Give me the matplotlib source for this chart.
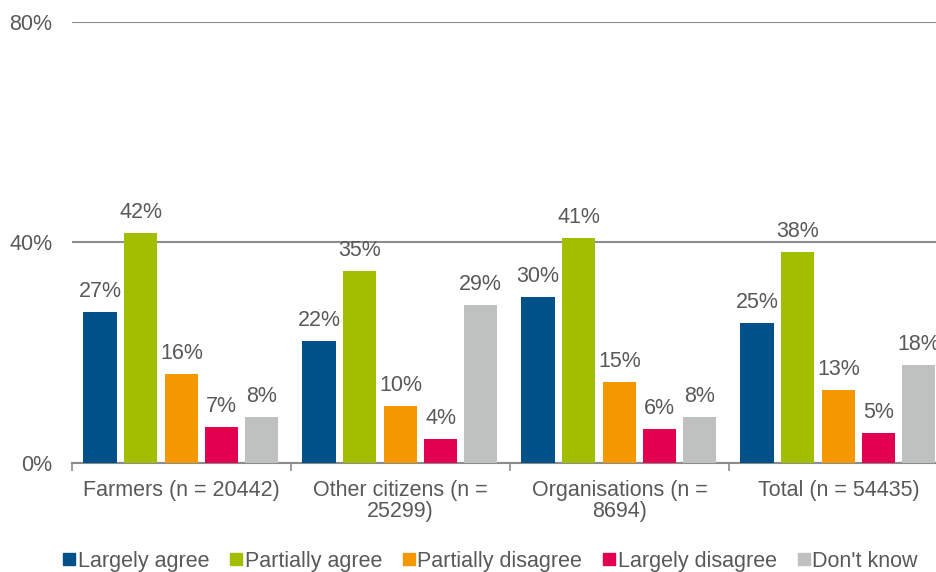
import matplotlib.pyplot as plt
import numpy as np

plt.rcParams['font.family'] = ['Liberation Sans', 'DejaVu Sans']

groups = ['Farmers (n = 20442)', 'Other citizens (n =\n25299)',
          'Organisations (n =\n8694)', 'Total (n = 54435)']
series = ['Largely agree', 'Partially agree', 'Partially disagree',
          'Largely disagree', "Don't know"]
colors = ['#00508a', '#a2be00', '#f39800', '#e2004f', '#bfc1c0']

largely_agree = [27.4, 22.1, 30.1, 25.4]
partially_agree = [41.7, 34.8, 40.8, 38.3]
partially_disagree = [16.1, 10.3, 14.7, 13.2]
largely_disagree = [6.6, 4.4, 6.2, 5.4]
dont_know = [8.3, 28.7, 8.3, 17.8]

values = [largely_agree, partially_agree, partially_disagree,
          largely_disagree, dont_know]

txt = '#595959'
fs = 15.5
fig = plt.figure(figsize=(9.37, 5.72), dpi=100)
ax = fig.add_axes([0.0768, 0.1906, 0.935, 0.771])

x = np.arange(len(groups))
offsets = [-0.372, -0.186, 0.0, 0.184, 0.366]
width = 0.152
for vals, off, col, name in zip(values, offsets, colors, series):
    bars = ax.bar(x + off, vals, width, color=col, label=name, zorder=3)
    for b, v in zip(bars, vals):
        ax.text(b.get_x() + b.get_width() / 2, v + 1.8, f'{round(v)}%',
                ha='center', va='bottom', fontsize=fs, color=txt)

ax.set_ylim(0, 80)
ax.set_xlim(-0.5, 3.5)
ax.set_yticks([0, 40, 80])
ax.set_yticklabels(['0%', '40%', '80%'], fontsize=fs, color=txt)
ax.tick_params(axis='y', length=0, pad=14)
ax.yaxis.grid(True, color='#8c8c8c', linewidth=1.5, zorder=0)

ax.set_xticks(x)
ax.set_xticklabels(groups, fontsize=fs, color=txt, linespacing=1.05)
ax.tick_params(axis='x', which='major', length=0, pad=12)
ax.set_xticks([-0.5, 0.5, 1.5, 2.5, 3.5], minor=True)
ax.tick_params(axis='x', which='minor', length=6, width=1.2, color='#8c8c8c')

for s in ['top', 'right', 'left']:
    ax.spines[s].set_visible(False)
ax.spines['bottom'].set_color('#8c8c8c')
ax.spines['bottom'].set_linewidth(1.5)

handles = [plt.Line2D([], [], marker='s', linestyle='none', markersize=8.5,
                      color=c) for c in colors]
fig.legend(handles, series, loc='lower center', ncol=5, frameon=False,
           bbox_to_anchor=(0.522, -0.033), fontsize=fs, handletextpad=0.0,
           columnspacing=0.85, handlelength=0.8, labelcolor=txt)

fig.savefig('out.png', dpi=100)
